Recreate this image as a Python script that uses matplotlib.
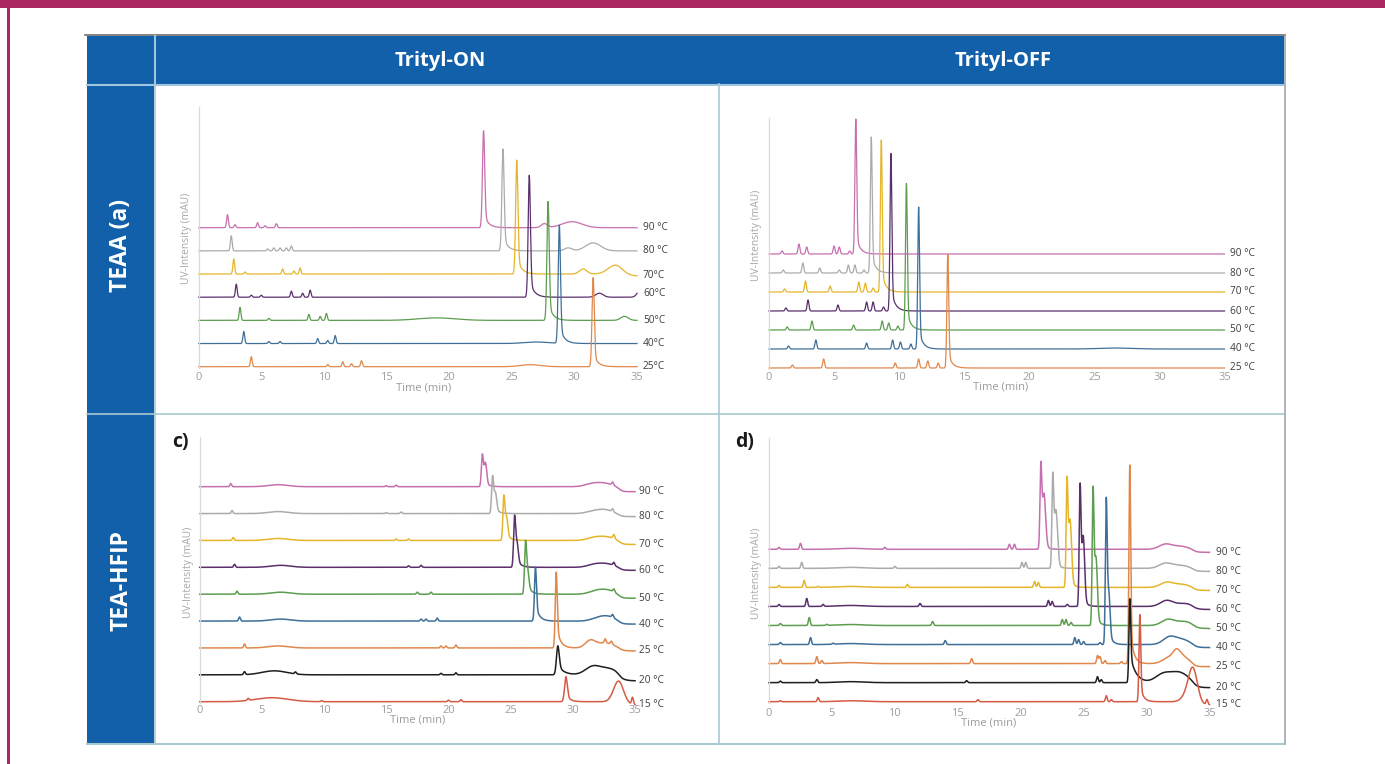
import numpy as np
import matplotlib
matplotlib.use("Agg")
import matplotlib.pyplot as plt
from matplotlib.patches import Rectangle
from matplotlib.lines import Line2D

W, H = 1385, 764

# ---------------- data ----------------
TEMP_COLORS = {90: "#c66fae", 80: "#ababab", 70: "#e5b52a", 60: "#5a2f6c",
               50: "#5c9d4f", 40: "#3e6f98", 25: "#e0884c", 20: "#1e1e1e", 15: "#d65a44"}

# Panel a: Trityl-ON, TEAA
A_temps = [90, 80, 70, 60, 50, 40, 25]
A_labels = ["90 °C", "80 °C", "70°C", "60°C", "50°C", "40°C", "25°C"]
A_rt = [22.75, 24.3, 25.4, 26.4, 27.9, 28.8, 31.5]
A_h = [97, 102, 114, 122, 119, 118, 89]
A_minor = [
    [(2.3, 13), (2.9, 3), (4.7, 5), (5.3, 2), (6.2, 4)],
    [(2.6, 15), (5.5, 2), (6.0, 3), (6.5, 3), (7.0, 3), (7.4, 5)],
    [(2.8, 15), (3.7, 2), (6.7, 5), (7.6, 3), (8.1, 6)],
    [(3.0, 13), (4.2, 2), (5.0, 2), (7.4, 6), (8.3, 4), (8.9, 7)],
    [(3.3, 13), (5.6, 2), (8.8, 6), (9.7, 4), (10.2, 7)],
    [(3.6, 12), (5.6, 2), (6.5, 2), (9.5, 5), (10.3, 3), (10.9, 8)],
    [(4.2, 10), (10.3, 2), (11.5, 5), (12.2, 3), (13.0, 6)],
]
A_humps = [
    [(27.6, 4, 0.25), (29.8, 6, 0.8)],
    [(29.5, 3, 0.3), (31.5, 8, 0.6)],
    [(30.7, 5, 0.3), (33.3, 9, 0.6)],
    [(32.0, 4, 0.3), (35.3, 8, 0.25)],
    [(19.0, 2.5, 1.5), (34.0, 4, 0.3)],
    [(27.0, 1.5, 1.0)],
    [(26.5, 2, 0.8)],
]
A_drop = [0, 0, -2, 0, 0, 0, 0]

# Panel b: Trityl-OFF, TEAA
B_temps = [90, 80, 70, 60, 50, 40, 25]
B_labels = ["90 °C", "80 °C", "70 °C", "60 °C", "50 °C", "40 °C", "25 °C"]
B_rt = [6.67, 7.86, 8.63, 9.37, 10.56, 11.5, 13.74]
B_h = [135, 136, 152, 158, 147, 142, 114]
B_minor = [
    [(1.0, 3), (2.3, 10), (2.9, 7), (5.0, 8), (5.4, 7), (6.2, 3)],
    [(1.1, 3), (2.6, 10), (3.9, 5), (5.4, 3), (6.1, 8), (6.6, 8), (7.3, 3)],
    [(1.2, 3), (2.8, 11), (4.7, 6), (6.9, 10), (7.4, 9), (8.0, 4)],
    [(1.3, 3), (3.0, 11), (5.3, 6), (7.5, 9), (8.0, 9), (8.8, 4)],
    [(1.4, 3), (3.3, 9), (6.5, 5), (8.7, 9), (9.2, 7), (9.9, 4)],
    [(1.5, 3), (3.6, 9), (7.5, 6), (9.5, 9), (10.1, 7), (10.9, 5)],
    [(1.8, 3), (4.2, 9), (9.7, 5), (11.5, 9), (12.2, 7), (13.0, 5)],
]
B_humps = [[], [], [], [], [], [(26.5, 1.0, 1.2)], []]
B_drop = [0, 0, 0, 0, 0, 0, 0]

# Panel c: Trityl-ON, TEA-HFIP
C_temps = [90, 80, 70, 60, 50, 40, 25, 20, 15]
C_labels = ["90 °C", "80 °C", "70 °C", "60 °C", "50 °C", "40 °C", "25 °C", "20 °C", "15 °C"]
C_rt = [22.73, 23.55, 24.46, 25.32, 26.2, 27.0, 28.67, 28.8, 29.45]
C_h = [32, 37, 44, 50, 51, 54, 76, 29, 25]
C_minor = [
    [(2.5, 3), (15.0, 1), (15.8, 1.5), (33.2, 3)],
    [(2.6, 3), (15.0, 1), (16.2, 1.5), (33.2, 3)],
    [(2.7, 3), (15.8, 1.5), (16.8, 1.5), (33.3, 4)],
    [(2.8, 3), (16.8, 1.5), (17.8, 2), (33.3, 3)],
    [(3.0, 3), (17.5, 2), (18.6, 2), (33.3, 3)],
    [(3.2, 4), (17.8, 2), (18.2, 2), (19.1, 3), (33.2, 3)],
    [(3.6, 4), (19.4, 2), (19.8, 2), (20.6, 3), (32.6, 4), (33.1, 3)],
    [(3.6, 3), (7.7, 2), (19.4, 1.5), (20.6, 2)],
    [(3.9, 2), (9.8, 1), (20.0, 1.5), (21.0, 2), (34.8, 7)],
]
C_humps = [
    [(6.3, 2, 0.8), (22.98, 20, 0.1), (31.6, 3, 0.6), (32.6, 3, 0.6)],
    [(6.3, 2, 0.8), (23.78, 16, 0.1), (31.8, 3, 0.6), (32.7, 3, 0.5)],
    [(6.3, 2, 0.8), (24.68, 17, 0.1), (31.8, 3, 0.6), (32.8, 3, 0.6)],
    [(6.5, 2, 0.8), (25.52, 17, 0.1), (31.8, 3, 0.6), (32.8, 3, 0.6)],
    [(6.5, 2, 0.8), (26.38, 15, 0.1), (32.0, 4, 0.6), (32.9, 3, 0.5)],
    [(6.5, 2, 0.8), (32.2, 4, 0.6), (33.0, 3, 0.5)],
    [(6.3, 2, 0.8), (31.4, 7, 0.4), (32.6, 5, 0.7)],
    [(6.0, 4, 1.0), (31.6, 8, 0.6), (32.9, 6, 0.7)],
    [(5.8, 4, 1.3), (33.7, 22, 0.4)],
]
C_drop = [-5, -3, -4, -3, -4, -3, -3, -6, -3]

# Panel d: Trityl-OFF, TEA-HFIP
D_temps = [90, 80, 70, 60, 50, 40, 25, 20, 15]
D_labels = ["90 °C", "80 °C", "70 °C", "60 °C", "50 °C", "40 °C", "25 °C", "20 °C", "15 °C"]
D_rt = [21.6, 22.55, 23.68, 24.72, 25.75, 26.8, 28.67, 28.67, 29.47]
D_h = [80, 88, 103, 119, 133, 142, 199, 84, 87]
D_minor = [
    [(0.8, 2), (2.5, 6), (9.2, 2), (19.1, 5), (19.5, 5)],
    [(0.8, 2), (2.6, 6), (10.0, 2), (20.1, 6), (20.4, 6)],
    [(0.8, 2), (2.8, 7), (3.9, 1), (11.0, 3), (21.1, 6), (21.4, 5)],
    [(0.8, 2), (3.0, 8), (4.3, 2), (12.0, 3), (22.2, 6), (22.5, 5), (23.7, 2)],
    [(0.9, 2), (3.2, 8), (4.6, 1), (13.0, 4), (23.3, 6), (23.6, 6), (24.0, 3)],
    [(0.9, 2), (3.3, 7), (5.1, 1), (14.0, 4), (24.3, 7), (24.6, 5), (25.0, 3), (26.3, 2)],
    [(0.9, 4), (3.8, 7), (4.2, 3), (16.1, 5), (26.1, 8), (26.3, 7), (26.7, 3), (28.0, 2)],
    [(0.9, 1.5), (3.8, 3), (15.7, 2), (26.1, 6), (26.4, 3)],
    [(0.9, 1), (3.9, 4), (16.6, 2), (26.8, 6), (27.2, 2), (34.8, 5)],
]
D_humps = [
    [(6.5, 1, 1.0), (21.85, 50, 0.13), (31.5, 5, 0.5), (32.7, 3, 0.6)],
    [(6.5, 1, 1.0), (22.8, 52, 0.13), (31.5, 5, 0.5), (32.7, 3, 0.6)],
    [(6.5, 1, 1.0), (23.92, 60, 0.12), (31.6, 5, 0.5), (32.8, 3, 0.6)],
    [(6.5, 1, 1.0), (24.97, 62, 0.11), (31.6, 6, 0.5), (33.0, 3, 0.6)],
    [(6.5, 1, 1.0), (25.98, 58, 0.11), (31.7, 6, 0.5), (33.0, 4, 0.6)],
    [(6.5, 1, 1.0), (27.0, 40, 0.1), (31.8, 7, 0.5), (32.8, 5, 0.6)],
    [(6.5, 1, 1.0), (31.8, 6, 0.5), (32.4, 10, 0.3), (33.0, 6, 0.4)],
    [(6.5, 1, 1.0), (31.3, 8, 0.6), (32.6, 10, 0.7)],
    [(6.5, 1, 1.0), (33.2, 6, 0.4), (33.7, 33, 0.35)],
]
D_drop = [-3, -3, -3, -3, -3, -3, -3, -5, -3]

X_TICKS = [0, 5, 10, 15, 20, 25, 30, 35]

# --------------- helpers ---------------
t = np.linspace(0, 35, 4000)


def trace(rt, h, sig, ta, tau, minors, humps, drop):
    g = np.exp(-0.5 * ((t - rt) / sig) ** 2)
    tail = np.where(t >= rt, np.exp(-np.clip(t - rt, 0, None) / tau), 0.0)
    y = np.where(t < rt, h * g, h * ((1 - ta) * g + ta * tail))
    for c, a in minors:
        y = y + a * np.exp(-0.5 * ((t - c) / 0.07) ** 2)
    for c, a, w in humps:
        y = y + a * np.exp(-0.5 * ((t - c) / w) ** 2)
    y = y + drop * 0.5 * (1 + np.tanh((t - 33.7) / 0.3))
    return y


fig = plt.figure(figsize=(W / 100, H / 100), dpi=100)
fig.patch.set_facecolor("white")


def fx(x):
    return x / W


def fy(y):
    return 1 - y / H


def rect(x0, y0, x1, y1, color):
    fig.add_artist(Rectangle((fx(x0), fy(y1)), fx(x1) - fx(x0), fy(y0) - fy(y1),
                             transform=fig.transFigure, facecolor=color,
                             edgecolor="none", zorder=0))


def hline(x0, x1, y, color, lw=1.0):
    fig.add_artist(Line2D([fx(x0), fx(x1)], [fy(y), fy(y)], transform=fig.transFigure,
                          color=color, lw=lw, zorder=1))


def vline(x, y0, y1, color, lw=1.0):
    fig.add_artist(Line2D([fx(x), fx(x)], [fy(y0), fy(y1)], transform=fig.transFigure,
                          color=color, lw=lw, zorder=1))


MAGENTA = "#ab2862"
BLUE = "#1160a9"
SEP = "#9fc6df"
BORDER = "#a9c8d2"

# frame
rect(0, 0, W, 8, MAGENTA)
rect(7, 0, 9.5, H, MAGENTA)

# table
hline(85, 1285, 34.5, "#6d6d6d", 1.2)
rect(87, 36, 1284, 84, BLUE)
rect(87, 84, 154, 744, BLUE)
vline(155, 36, 84, SEP, 1.5)
hline(87, 1284, 84.8, SEP, 1.5)
vline(155, 84, 744, BORDER, 1.2)
vline(718.5, 84, 744, BORDER, 1.2)
hline(87, 1284, 414.5, BORDER, 1.2)
hline(87, 1284, 743.8, BORDER, 1.5)
vline(1284.5, 36, 744, "#a0a8ad", 1.2)

HDR_FONT = ["Open Sans", "DejaVu Sans"]
fig.text(fx(440), fy(61), "Trityl-ON", color="white", fontsize=14.5, fontweight="bold",
         ha="center", va="center", family=HDR_FONT)
fig.text(fx(1003), fy(61), "Trityl-OFF", color="white", fontsize=14.5, fontweight="bold",
         ha="center", va="center", family=HDR_FONT)
fig.text(fx(121), fy(246), "TEAA (a)", color="white", fontsize=16.5, fontweight="bold",
         ha="center", va="center", rotation=90, family=HDR_FONT)
fig.text(fx(121), fy(581), "TEA-HFIP", color="white", fontsize=16.5, fontweight="bold",
         ha="center", va="center", rotation=90, family=HDR_FONT)

SMALL_FONT = ["Open Sans", "DejaVu Sans"]

panels = [
    dict(temps=A_temps, labels=A_labels, rt=A_rt, h=A_h, minor=A_minor, humps=A_humps,
         drop=A_drop, left=198.7, right=637, top=107, bot_base=366.7, top_base=227.7,
         sig=0.09, ta=0.15, tau=0.35, lw=0.9, pad=3.0, lab_dx=6, time=(424, 388),
         uv=(186.5, 238), tag=None),
    dict(temps=B_temps, labels=B_labels, rt=B_rt, h=B_h, minor=B_minor, humps=B_humps,
         drop=B_drop, left=769, right=1224.5, top=118, bot_base=368, top_base=254,
         sig=0.07, ta=0.14, tau=0.3, lw=0.9, pad=2.0, lab_dx=5, time=(1001, 387),
         uv=(757, 235), tag=None),
    dict(temps=C_temps, labels=C_labels, rt=C_rt, h=C_h, minor=C_minor, humps=C_humps,
         drop=C_drop, left=199.7, right=635, top=436.7, bot_base=701.7, top_base=486.7,
         sig=0.08, ta=0.3, tau=0.3, lw=1.1, pad=1.5, lab_dx=4, time=(418, 720),
         uv=(188, 572), tag=("c)", 180, 442)),
    dict(temps=D_temps, labels=D_labels, rt=D_rt, h=D_h, minor=D_minor, humps=D_humps,
         drop=D_drop, left=769, right=1209.5, top=437.7, bot_base=701.7, top_base=549.3,
         sig=0.07, ta=0.2, tau=0.25, lw=1.1, pad=3.5, lab_dx=7, time=(989, 723),
         uv=(756, 573), tag=("d)", 745, 442)),
]

for p in panels:
    bottom = p["bot_base"] + 1
    ax = fig.add_axes([fx(p["left"]), fy(bottom), fx(p["right"]) - fx(p["left"]),
                       fy(p["top"]) - fy(bottom)])
    ax.set_xlim(0, 35)
    ax.set_ylim(0, bottom - p["top"])
    ax.patch.set_alpha(0)
    for s in ["top", "right", "bottom"]:
        ax.spines[s].set_visible(False)
    ax.spines["left"].set_color("#d9d9d9")
    ax.spines["left"].set_linewidth(0.9)
    ax.set_yticks([])
    ax.set_xticks(X_TICKS)
    ax.tick_params(axis="x", length=0, pad=p["pad"], labelsize=8, labelcolor="#9e9e9e")
    for lab in ax.get_xticklabels():
        lab.set_family(SMALL_FONT)
    n = len(p["temps"])
    step = (p["bot_base"] - p["top_base"]) / (n - 1)
    for i, temp in enumerate(p["temps"]):
        off = 1 + step * (n - 1 - i)
        sig = p["sig"] * (1.4 if temp in (15, 20) and p is panels[2] else 1.0)
        ta = p["ta"]
        tau = p["tau"]
        if temp == 20:
            ta, tau = 0.35, 0.45
        y = trace(p["rt"][i], p["h"][i], sig, ta, tau, p["minor"][i], p["humps"][i], p["drop"][i])
        ax.plot(t, y + off, color=TEMP_COLORS[temp], lw=p["lw"], clip_on=False,
                solid_joinstyle="round")
        ax.annotate(p["labels"][i], xy=(35, off + y[-1]), xytext=(p["lab_dx"], 0),
                    textcoords="offset pixels", ha="left", va="center", fontsize=7.3,
                    color="#3c3c3c", family=SMALL_FONT, annotation_clip=False)
    fig.text(fx(p["time"][0]), fy(p["time"][1]), "Time (min)", ha="center", va="center",
             fontsize=8, color="#9a9a9a", family=SMALL_FONT)
    fig.text(fx(p["uv"][0]), fy(p["uv"][1]), "UV-Intensity (mAU)", ha="center", va="center",
             fontsize=7.5, color="#a8a8a8", rotation=90, family=SMALL_FONT)
    if p["tag"]:
        fig.text(fx(p["tag"][1]), fy(p["tag"][2]), p["tag"][0], ha="center", va="center",
                 fontsize=14, fontweight="bold", color="#1a1a1a", family=HDR_FONT)

fig.savefig("out.png", dpi=100, facecolor="white")
